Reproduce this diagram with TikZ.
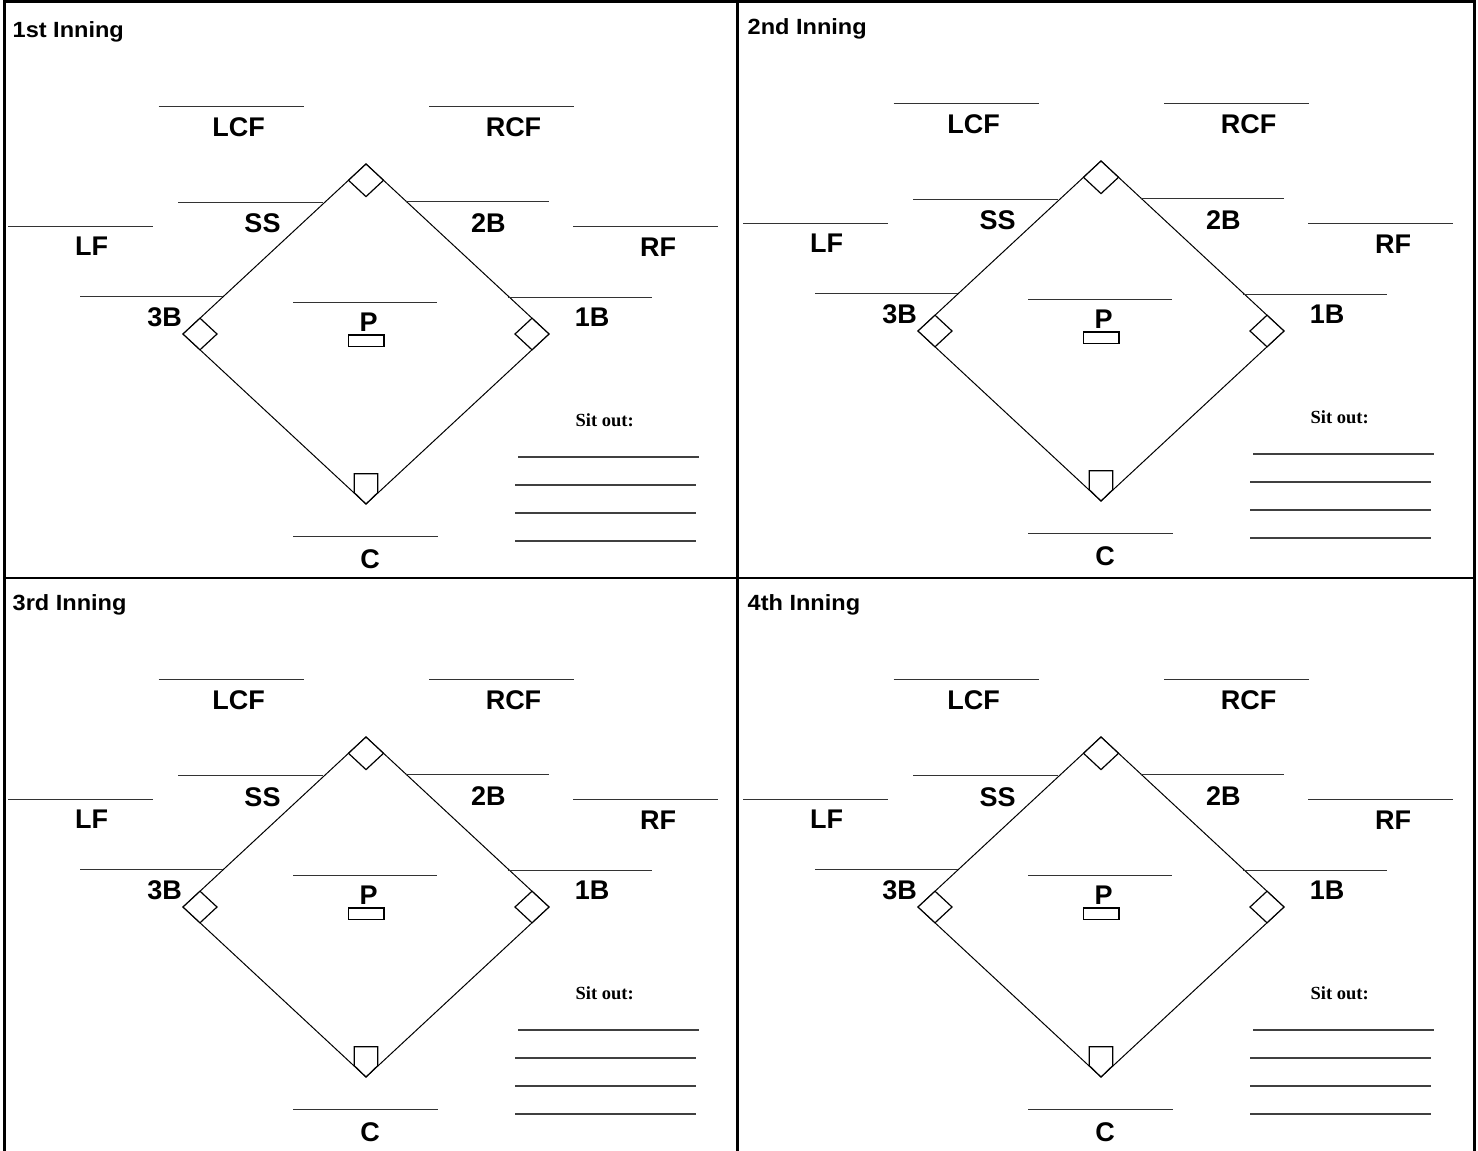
\documentclass[tikz,border=0pt]{standalone}
\usepackage{fontspec}
\setmainfont{Liberation Sans}
\newfontfamily\titlefont[FakeStretch=1.07]{Liberation Sans}
\newfontfamily\sitfont{Liberation Serif}
\usetikzlibrary{calc}

\tikzset{
  frame/.style={line width=2.7pt, black},
  field/.style={line width=1pt, black},
  base/.style={line width=1.2pt, black, fill=white},
  posline/.style={line width=1.3pt, black!80},
  poslabel/.style={font=\fontsize{27}{27}\selectfont\bfseries, inner sep=0pt},
  inningtitle/.style={font=\titlefont\fontsize{22}{24}\selectfont\bfseries, inner sep=0pt},
  sitlabel/.style={font=\sitfont\fontsize{18.5}{20}\selectfont\bfseries, inner sep=0pt},
  sitline/.style={line width=2pt, black!75}
}

\begin{document}
\begin{tikzpicture}[x=1pt, y=-1pt]
  \useasboundingbox (0,0) rectangle (1478,1151);

  % Frame of the four innings
  \draw[frame] (4.7,1.3) -- (1474.5,1.3);
  \draw[frame] (4.7,0) -- (4.7,1151);
  \draw[frame] (1474.5,0) -- (1474.5,1151);
  \draw[frame] (737.5,0) -- (737.5,1151);
  \draw[frame] (4.7,578) -- (1474.5,578);

  % One field per inning, shifted into its panel
  \foreach \dx/\dy/\inning/\k in {0/0/1st Inning/a, 735/-3/2nd Inning/b, 0/573/3rd Inning/c, 735/573/4th Inning/d}{
    \begin{scope}[shift={(\dx,\dy)}]
      \node[inningtitle, anchor=base west] (title-\k) at (12.5,37.3) {\inning};

      % Infield diamond
      \coordinate (home-\k) at (366,504);
      \coordinate (first-\k) at (549,334);
      \coordinate (second-\k) at (366,164);
      \coordinate (third-\k) at (183,334);
      \draw[field] (home-\k) -- (first-\k) -- (second-\k) -- (third-\k) -- cycle;

      % Bases, home plate and rubber
      \draw[base] (first-\k) -- ++(-17,-15.8) -- ++(-17,15.8) -- ++(17,15.8) -- cycle;
      \draw[base] (second-\k) -- ++(17.5,16.3) -- ++(-17.5,16.3) -- ++(-17.5,-16.3) -- cycle;
      \draw[base] (third-\k) -- ++(17,-15.8) -- ++(17,15.8) -- ++(-17,15.8) -- cycle;
      \draw[base] (home-\k) -- ++(-11.7,-11.3) -- ++(0,-19) -- ++(23.4,0) -- ++(0,19) -- cycle;
      \draw[base] (348.3,335) rectangle (384,346.7);

      % Name lines with positions
      \foreach \pos/\xa/\xb/\y/\lx/\ly in {
          LCF/158.5/303.5/106.5/238.7/127.2,
          RCF/429/574/106.5/513.5/127.2,
          LF/8.3/153.3/226.7/91.7/246.7,
          SS/178/323/202.7/262.5/223.7,
          2B/405.7/549.3/201.7/488.3/223.3,
          RF/573.3/717.7/226.7/658/247,
          3B/80/223.3/296.7/164.7/317,
          1B/508/651.7/297.3/592.2/317,
          P/293/437/302.7/368.7/322.3,
          C/293.3/438.3/536.7/370/559}{
        \draw[posline] (\xa,\y) -- (\xb,\y);
        \node[poslabel] (\pos-\k) at (\lx,\ly) {\pos};
      }

      % Sit out list
      \node[sitlabel] (sit-\k) at (604.7,420) {Sit out:};
      \draw[sitline] (518,456.7) -- (699,456.7);
      \foreach \y in {485,513,541}
        \draw[sitline] (515,\y) -- (696,\y);
    \end{scope}
  }

\end{tikzpicture}
\end{document}
